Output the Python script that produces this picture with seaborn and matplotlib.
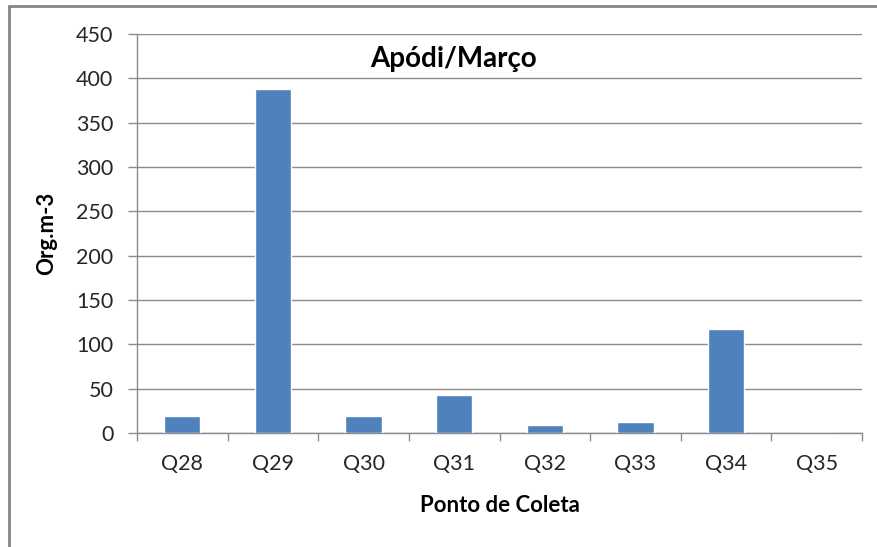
import matplotlib
matplotlib.use("Agg")
import matplotlib.pyplot as plt
import seaborn as sns
import pandas as pd
from matplotlib.lines import Line2D

# Sampling points and organism density (Org.m-3)
pontos = ["Q28", "Q29", "Q30", "Q31", "Q32", "Q33", "Q34", "Q35"]
densidade = [19, 388, 19, 43, 9, 12, 117, 0]
y_ticks = [0, 50, 100, 150, 200, 250, 300, 350, 400, 450]

df = pd.DataFrame({"Ponto": pontos, "Densidade": densidade})

sns.set_theme(style="white")
plt.rcParams["font.family"] = ["Lato", "DejaVu Sans"]

fig = plt.figure(figsize=(8.77, 5.47), dpi=100)
ax = fig.add_axes([137 / 877, 1 - 433 / 547, 725 / 877, 399 / 547])

sns.barplot(data=df, x="Ponto", y="Densidade", color="#4F81BD",
            saturation=1, width=0.4, ax=ax, zorder=3)

grid_col = "#8C8C8C"
ax.set_xlim(-0.5, len(pontos) - 0.5)
ax.set_ylim(0, 450)
ax.set_yticks(y_ticks)
ax.set_yticklabels([str(v) for v in y_ticks])
ax.yaxis.grid(True, color=grid_col, linewidth=1.0, zorder=0)
ax.set_axisbelow(True)

for side in ("top", "right"):
    ax.spines[side].set_visible(False)
for side in ("left", "bottom"):
    ax.spines[side].set_color(grid_col)
    ax.spines[side].set_linewidth(1.0)

# category separators on the x axis
ax.set_xticks([i - 0.5 for i in range(len(pontos) + 1)], minor=True)
ax.tick_params(axis="x", which="major", length=0, pad=15, labelsize=15.5,
               labelcolor="#262626")
ax.tick_params(axis="x", which="minor", length=6, width=1, color=grid_col,
               direction="out", bottom=True)
ax.tick_params(axis="y", which="major", length=6.5, width=1, color=grid_col,
               direction="out", left=True, labelsize=15.5, pad=10.5,
               labelcolor="#262626")

ax.set_xlabel("Ponto de Coleta", fontsize=16, fontweight="bold", color="black")
ax.xaxis.set_label_coords(0.5, -0.155)
ax.set_ylabel("Org.m-3", fontsize=16, fontweight="bold", color="black")
ax.yaxis.set_label_coords(-0.110, 0.5)

ax.text(0.437, 0.937, "Apódi/Março", transform=ax.transAxes, ha="center",
        va="center", fontsize=20, fontweight="bold", color="black")

# chart frame (top and left edges visible)
fig.add_artist(Line2D([9 / 877, 9 / 877], [0, 1 - 6 / 547],
                      transform=fig.transFigure, color="#868686", linewidth=2))
fig.add_artist(Line2D([9 / 877, 1], [1 - 6 / 547, 1 - 6 / 547],
                      transform=fig.transFigure, color="#868686", linewidth=2))

fig.savefig("out.png", dpi=100, facecolor="white")
